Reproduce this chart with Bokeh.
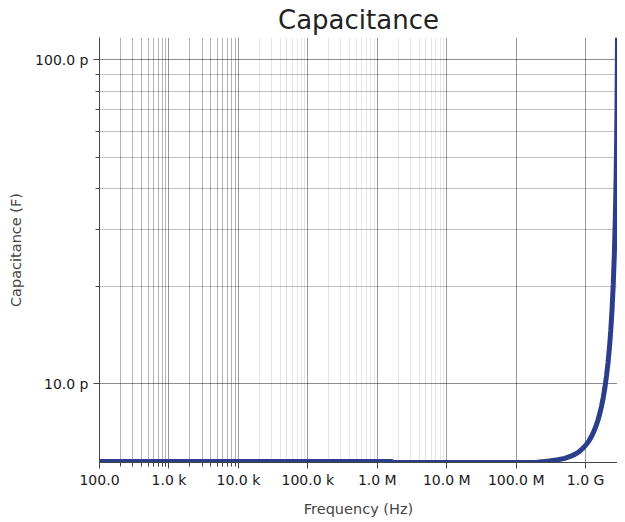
from bokeh.plotting import figure
from bokeh.models import Range1d, FixedTicker, CustomJSTickFormatter, Grid
from bokeh.embed import file_html
from bokeh.resources import INLINE

# Data (frequency in Hz, capacitance in pF)
freq_hz = [1e2, 1e3, 1e4, 1e5, 1e6, 1.6e6, 1.7e6, 1e7, 1e8, 2e8, 3e8, 4e8, 5e8, 6e8,
           7e8, 8e8, 9e8, 1.0e9, 1.1e9, 1.2e9, 1.3e9, 1.4e9, 1.5e9, 1.6e9, 1.7e9,
           1.8e9, 1.9e9, 2.0e9, 2.1e9, 2.2e9, 2.3e9, 2.4e9, 2.5e9, 2.6e9, 2.7e9,
           2.75e9, 2.8e9, 2.825e9, 2.85e9, 2.865e9, 2.877e9]
cap_pf = [5.76, 5.76, 5.76, 5.76, 5.76, 5.76, 5.72, 5.72, 5.72, 5.73, 5.78, 5.83, 5.89, 5.97,
          6.06, 6.17, 6.31, 6.46, 6.64, 6.85, 7.10, 7.38, 7.71, 8.10, 8.56,
          9.11, 9.78, 10.59, 11.60, 12.89, 14.59, 16.92, 20.30, 25.63, 35.24,
          43.7, 57.7, 69.0, 85.9, 100.7, 117.0]
cap_f = [c * 1e-12 for c in cap_pf]

x_major = [10.0 ** k for k in range(2, 10)]
x_minor = [m * 10.0 ** k for k in (2, 3) for m in range(2, 10)]
x_light = [m * 10.0 ** k for k in (4, 5, 6) for m in range(2, 10)]
y_major = [1e-11, 1e-10]
y_minor = [m * 1e-11 for m in range(2, 10)]

p = figure(width=617, height=522, x_axis_type="log", y_axis_type="log",
           x_range=Range1d(min(freq_hz), max(freq_hz)),
           y_range=Range1d(min(cap_f), max(cap_f)),
           output_backend="svg", toolbar_location=None,
           min_border_left=99, min_border_right=0, min_border_top=37, min_border_bottom=60)

p.title.text = "Capacitance"
p.title.align = "center"
p.title.text_font = "DejaVu Sans"
p.title.text_font_size = "26px"
p.title.text_font_style = "normal"
p.title.text_color = "#222222"
p.title.standoff = 5
p.outline_line_color = None

si = CustomJSTickFormatter(code="""
const pre = {"-15":"f","-12":"p","-9":"n","-6":"\u00b5","-3":"m","0":"","3":"k","6":"M","9":"G"};
const e = Math.floor(Math.log10(Math.abs(tick)) / 3 + 1e-9) * 3;
const m = tick / Math.pow(10, e);
const s = pre[String(e)];
return m.toFixed(1) + (s ? " " + s : "");
""")

xt = FixedTicker(ticks=x_major, minor_ticks=x_minor)
yt = FixedTicker(ticks=y_major, minor_ticks=y_minor)
p.xaxis.ticker = xt
p.yaxis.ticker = yt
p.xgrid.ticker = xt
p.ygrid.ticker = yt
p.xaxis.formatter = si
p.yaxis.formatter = si

for ax in (p.xaxis, p.yaxis):
    ax.major_label_text_font = "DejaVu Sans"
    ax.major_label_text_font_size = "14px"
    ax.major_label_text_color = "#1a1a1a"
    ax.axis_label_text_font = "DejaVu Sans"
    ax.axis_label_text_font_size = "14.5px"
    ax.axis_label_text_font_style = "normal"
    ax.axis_label_text_color = "#444444"
    ax.axis_line_color = "#444444"
    ax.major_tick_line_color = "#444444"
    ax.minor_tick_line_color = "#444444"
    ax.major_tick_in = 0
    ax.minor_tick_in = 0
    ax.major_tick_out = 6
    ax.minor_tick_out = 4

p.xaxis.axis_label = "Frequency (Hz)"
p.yaxis.axis_label = "Capacitance (F)"
p.xaxis.major_label_standoff = 3
p.xaxis.axis_label_standoff = 10
p.yaxis.axis_label_standoff = 8

p.xgrid.grid_line_color = "black"
p.xgrid.grid_line_alpha = 0.4
p.xgrid.minor_grid_line_color = "black"
p.xgrid.minor_grid_line_alpha = 0.3
p.ygrid.grid_line_color = "black"
p.ygrid.grid_line_alpha = 0.45
p.ygrid.minor_grid_line_color = "black"
p.ygrid.minor_grid_line_alpha = 0.25

light = Grid(dimension=0, ticker=FixedTicker(ticks=x_light),
             grid_line_color="black", grid_line_alpha=0.1)
p.add_layout(light)

p.line(freq_hz, cap_f, line_color="#2b3e8b", line_width=5)

open("out.html", "w").write(file_html(p, INLINE))
